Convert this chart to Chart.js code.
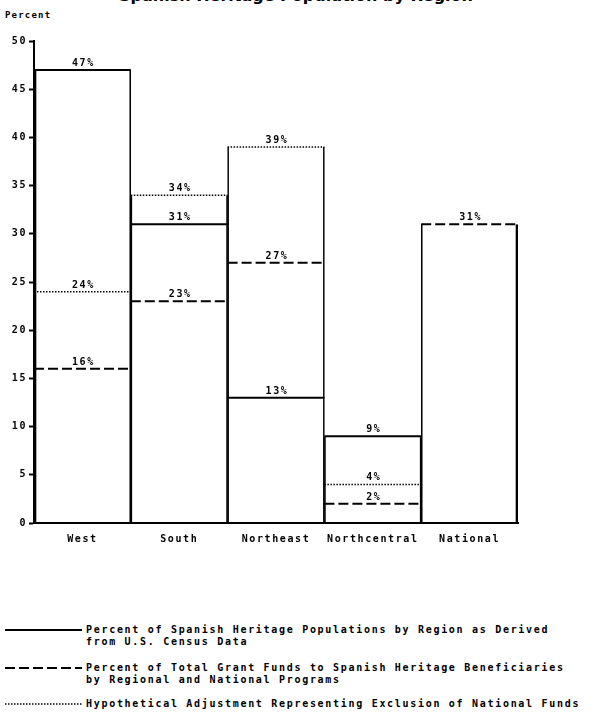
<!DOCTYPE html>
<html>
<head>
<meta charset="utf-8">
<script src="https://cdn.jsdelivr.net/npm/chart.js@4.4.0/dist/chart.umd.min.js"></script>
<style>
  body { margin: 0; background: #fff; width: 596px; height: 714px; overflow: hidden; position: relative; }
  #title { position: absolute; top: -13px; left: 0; width: 592px; text-align: center; font: bold 16px "DejaVu Sans", sans-serif; line-height: 18px; }
  #percent { position: absolute; left: 5px; top: 10px; font: bold 9px "DejaVu Sans Mono", monospace; letter-spacing: 1.2px; line-height: 11px; }
  #wrap { position: absolute; left: 0; top: 0; width: 596px; height: 560px; }
  .leg { position: absolute; left: 5px; font: bold 10px "DejaVu Sans Mono", monospace; letter-spacing: 1.7px; line-height: 12px; }
  .leg svg { position: absolute; left: 0; top: 4px; }
  .leg div { margin-left: 81px; white-space: nowrap; }
</style>
</head>
<body>
<div id="title">Spanish Heritage Population by Region</div>
<div id="percent">Percent</div>
<div id="wrap"><canvas id="grafico"></canvas></div>

<div class="leg" style="top:624px">
  <svg width="78" height="4"><line x1="0" y1="2" x2="77" y2="2" stroke="#000" stroke-width="2"/></svg>
  <div>Percent of Spanish Heritage Populations by Region as Derived<br>from U.S. Census Data</div>
</div>
<div class="leg" style="top:662px">
  <svg width="78" height="4"><line x1="0" y1="2" x2="77" y2="2" stroke="#000" stroke-width="2" stroke-dasharray="10 4"/></svg>
  <div>Percent of Total Grant Funds to Spanish Heritage Beneficiaries<br>by Regional and National Programs</div>
</div>
<div class="leg" style="top:698px">
  <svg width="78" height="4"><line x1="0" y1="2" x2="77" y2="2" stroke="#000" stroke-width="1.5" stroke-dasharray="1.5 1.5"/></svg>
  <div>Hypothetical Adjustment Representing Exclusion of National Funds</div>
</div>

<script>
// regioes
const regions = ["West", "South", "Northeast", "Northcentral", "National"];
// percent of spanish heritage population (census)
const population = [47, 31, 13, 9, null];
// percent of grant funds
const grantFunds = [16, 23, 27, 2, 31];
// hypothetical adjustment
const hypothetical = [24, 34, 39, 4, null];
const yTicks = [0, 5, 10, 15, 20, 25, 30, 35, 40, 45, 50];

const fonte = '"DejaVu Sans Mono", monospace';

// each value is a flat segment across its region
function segments(values) {
  let pts = [];
  values.forEach((v, i) => {
    if (v == null) return;
    pts.push({ x: i - 0.5, y: v }, { x: i + 0.5, y: v }, { x: i + 0.5, y: null });
  });
  return pts;
}

// walls of each region box go up to the highest of the three values
const walls = regions.map((r, i) => ({
  x: i,
  y: Math.max(...[population[i], grantFunds[i], hypothetical[i]].filter((v) => v != null)),
}));

const series = [population, grantFunds, hypothetical];

// typewriter look: wider letter spacing on the canvas text
const spacing = {
  id: "spacing",
  beforeDraw(chart) {
    chart.ctx.letterSpacing = "1.6px";
  },
};

// labels "47%" above each segment
const percentLabels = {
  id: "percentLabels",
  afterDatasetsDraw(chart) {
    const ctx = chart.ctx;
    const x = chart.scales.x;
    const y = chart.scales.y;
    ctx.save();
    ctx.letterSpacing = "1.6px";
    ctx.fillStyle = "#000";
    ctx.font = "bold 10px " + fonte;
    ctx.textAlign = "center";
    ctx.textBaseline = "alphabetic";
    series.forEach((vals) => {
      vals.forEach((v, i) => {
        if (v == null) return;
        ctx.fillText(v + "%", x.getPixelForValue(i) + 1, y.getPixelForValue(v) - 4);
      });
    });
    ctx.restore();
  },
};

let grafico = new Chart(document.getElementById("grafico"), {
  type: "bar",
  data: {
    datasets: [
      {
        type: "line",
        data: segments(population),
        borderColor: "#000",
        borderWidth: 2,
        pointRadius: 0,
        order: 1,
      },
      {
        type: "line",
        data: segments(grantFunds),
        borderColor: "#000",
        borderWidth: 2,
        borderDash: [10, 4],
        pointRadius: 0,
        order: 1,
      },
      {
        type: "line",
        data: segments(hypothetical),
        borderColor: "#000",
        borderWidth: 1.5,
        borderDash: [1.5, 1.5],
        pointRadius: 0,
        order: 1,
      },
      {
        data: walls,
        backgroundColor: "rgba(0,0,0,0)",
        borderColor: "#000",
        borderSkipped: false,
        borderWidth: (c) => ({
          left: c.dataIndex === 0 ? 2 : 1,
          right: c.dataIndex === regions.length - 1 ? 2 : 1,
          top: 0,
          bottom: 0,
        }),
        barPercentage: 1,
        categoryPercentage: 1,
        order: 2,
      },
    ],
  },
  options: {
    responsive: true,
    maintainAspectRatio: false,
    animation: false,
    layout: { padding: { left: 0, right: 78, top: 41, bottom: 0 } },
    plugins: {
      legend: { display: false },
      tooltip: { enabled: false },
    },
    scales: {
      x: {
        type: "linear",
        min: -0.5,
        max: regions.length - 0.5,
        offset: false,
        afterBuildTicks: (s) => { s.ticks = regions.map((r, i) => ({ value: i })); },
        grid: { display: false },
        border: { display: true, color: "#000", width: 2 },
        ticks: {
          color: "#000",
          font: { family: fonte, size: 10, weight: "bold" },
          padding: 2,
          maxRotation: 0,
          autoSkip: false,
          callback: (v) => regions[v],
        },
        afterFit: (s) => { s.height = 37; },
      },
      y: {
        min: 0,
        max: 50,
        afterBuildTicks: (s) => { s.ticks = yTicks.map((v) => ({ value: v })); },
        grid: { drawOnChartArea: false, drawTicks: true, tickLength: 5, tickColor: "#000", tickWidth: 2 },
        border: { display: true, color: "#000", width: 2 },
        ticks: { color: "#000", font: { family: fonte, size: 10, weight: "bold" }, padding: 2 },
        afterFit: (s) => { s.width = 34; },
      },
    },
  },
  plugins: [spacing, percentLabels],
});
</script>
</body>
</html>
